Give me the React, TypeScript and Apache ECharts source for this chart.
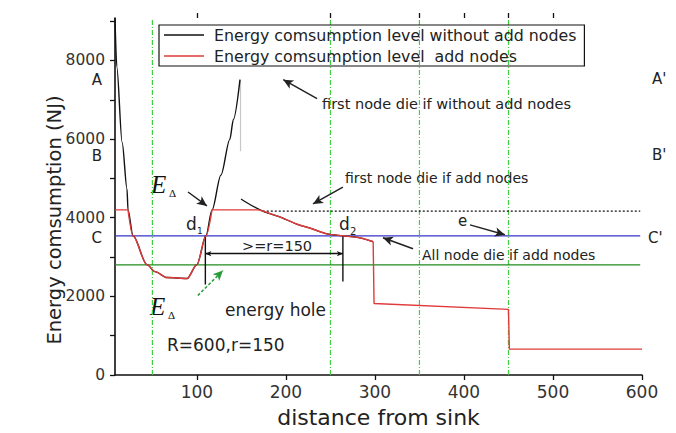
import React, { useEffect, useRef } from "react";
import * as echarts from "echarts";

// ---------- data ----------
const X_MIN = 8;
const X_MAX = 600;
const Y_MIN = 0;
const Y_MAX = 9080;

const xTickValues = [100, 200, 300, 400, 500, 600];
const xTopTickValues = [100, 250, 350, 400, 450, 500];
const yTickValues = [0, 1000, 2000, 3000, 4000, 5000, 6000, 7000, 8000, 9000];
const yLabelValues = [0, 2000, 4000, 6000, 8000];

// black: energy consumption without add nodes (U-shaped part)
const blackU: [number, number][] = [
  [8, 9080], [10, 7840], [16, 5920], [21.5, 4730], [22.6, 4200], [28.2, 3540],
  [43.9, 2807], [52.9, 2630], [66.4, 2478], [88.9, 2453], [100, 2807],
  [110.2, 3540], [117, 4200], [127, 5083], [137, 5994], [141, 6500], [148.4, 7511],
];
// shared declining part of both curves
const decline: [number, number][] = [
  [174, 4170], [193, 4020], [212, 3840], [229, 3720], [246, 3590], [264, 3540],
  [283, 3490], [298, 3390],
];
const blackTailStart: [number, number][] = [[149.6, 4477], [160, 4330]];
const blackDrop: [number, number][] = [[149, 7511], [149, 5690]];

// red: energy consumption with add nodes
const redLeftFlat: [number, number][] = [[8, 4200], [22.6, 4200]];
const redU: [number, number][] = [
  [22.6, 4200], [28.2, 3540], [43.9, 2807], [52.9, 2630], [66.4, 2478],
  [88.9, 2453], [100, 2807], [110.2, 3540], [117, 4200],
];
const redMidFlat: [number, number][] = [[117, 4200], [168.6, 4200]];
const redSteps: [number, number][] = [
  [298, 3390], [299, 1820], [450, 1669], [451, 657], [600, 657],
];

// reference lines
const levelC = 3540; // blue line C-C'
const levelGreen = 2800;
const levelFirstDie = 4170; // dotted
const refLineEnd = 598;
const dottedStart = 174;
const greenVerticals = [50, 250, 350, 450];
const d1 = 109.5;
const d2 = 264;
const d1Bottom = 2300;
const d2Bottom = 2377;
const spanLevel = 3085;

const NAME_BLACK = "Energy comsumption level without add nodes";
const NAME_RED = "Energy comsumption level  add nodes";

// arrows in data coordinates [from, to]
const arrows: { from: [number, number]; to: [number, number]; color: string; dashed?: boolean }[] = [
  { from: [235, 7031], to: [197, 7511], color: "#222" },
  { from: [90, 4654], to: [111.3, 4300], color: "#222" },
  { from: [264, 4780], to: [230.4, 4350], color: "#222" },
  { from: [406.8, 3819], to: [446, 3566], color: "#222" },
  { from: [342.8, 3212], to: [309, 3490], color: "#222" },
  { from: [101, 2023], to: [129.3, 2656], color: "#2a9a3a", dashed: true },
];

const FONT = "DejaVu Sans";

export default function App() {
  const ref = useRef<HTMLDivElement>(null);

  useEffect(() => {
    if (!ref.current) return;
    const chart = echarts.init(ref.current, null, { renderer: "svg" });

    const lineSeries = (name: string, data: [number, number][], color: string, width: number, extra: any = {}) => ({
      type: "line",
      name,
      data,
      symbol: "none",
      silent: true,
      lineStyle: { color, width, type: extra.dash || "solid" },
      itemStyle: { color },
      smooth: extra.smooth || false,
      smoothMonotone: extra.smoothMonotone,
    });

    const series: any[] = [];

    greenVerticals.forEach((v) => {
      series.push(lineSeries("gv" + v, [[v, Y_MIN], [v, Y_MAX]], "#3fcf3f", 1.2, { dash: [5, 2, 1, 2] }));
    });

    series.push(lineSeries("blue", [[X_MIN, levelC], [refLineEnd, levelC]], "#3434c8", 1.3));
    series.push(lineSeries("green", [[X_MIN, levelGreen], [refLineEnd, levelGreen]], "#1f8a1f", 1.3));
    series.push(lineSeries("dotted", [[dottedStart, levelFirstDie], [refLineEnd, levelFirstDie]], "#111", 1.2, { dash: [2, 2] }));
    series.push(lineSeries("d1line", [[d1, levelC], [d1, d1Bottom]], "#111", 1.4));
    series.push(lineSeries("d2line", [[d2, levelC], [d2, d2Bottom]], "#111", 1.4));
    series.push(lineSeries("gray", blackDrop, "#c8c8c8", 1.2));

    series.push(lineSeries(NAME_BLACK, blackU, "#111", 1.4, { smooth: 0.3, smoothMonotone: "x" }));
    series.push(lineSeries(NAME_BLACK, [...blackTailStart, ...decline], "#111", 1.3, { smooth: 0.3 }));

    series.push(lineSeries(NAME_RED, redLeftFlat, "#e03a3a", 1.4));
    series.push(lineSeries(NAME_RED, redU, "#e03a3a", 1.4, { smooth: 0.3, smoothMonotone: "x" }));
    series.push(lineSeries(NAME_RED, [...redMidFlat, ...decline], "#e03a3a", 1.4, { smooth: 0.25 }));
    series.push(lineSeries(NAME_RED, redSteps, "#e03a3a", 1.4));

    // arrows and dimension line
    series.push({
      type: "line",
      name: "annot",
      data: [],
      silent: true,
      markLine: {
        silent: true,
        animation: false,
        label: { show: false },
        data: [
          ...arrows.map((a) => [
            {
              coord: a.from,
              symbol: "none",
              lineStyle: { color: a.color, width: 1.5, type: a.dashed ? [3, 2] : "solid" },
            },
            { coord: a.to, symbol: "arrow", symbolSize: [7, 10] },
          ]),
          [
            { coord: [d1, spanLevel], symbol: "arrow", symbolSize: [4, 6], lineStyle: { color: "#111", width: 1.3, type: "solid" } },
            { coord: [d2, spanLevel], symbol: "arrow", symbolSize: [4, 6] },
          ],
        ],
      },
    });

    const txt = (text: string, x: number, y: number, size = 14, align = "left", extra: any = {}, rotation = 0) => ({
      type: "text",
      x,
      y,
      rotation,
      silent: true,
      style: {
        text,
        fontFamily: FONT,
        fontSize: size,
        fill: "#222",
        textAlign: align,
        textVerticalAlign: "middle",
        ...extra,
      },
    });

    const graphic: any[] = [
      txt("Energy comsumption (NJ)", 54, 220, 19.5, "center", {}, Math.PI / 2),
      txt("A", 102, 80, 15, "right"),
      txt("B", 102, 156, 15, "right"),
      txt("C", 102, 238, 15, "right"),
      txt("A'", 652, 79, 15),
      txt("B'", 652, 155, 15),
      txt("C'", 648, 238, 15),
      txt("first node die if without add nodes", 322, 104, 14.5),
      txt("first node die if add nodes", 345, 178, 14),
      txt("All node die if add nodes", 422, 255, 14),
      txt("e", 458, 221, 15),
      txt(">=r=150", 242, 246, 14.5),
      txt("energy hole", 225, 310, 17),
      txt("R=600,r=150", 167, 345, 17),
      txt("d", 186, 224, 17),
      txt("1", 197, 231, 9),
      txt("d", 339, 224, 17),
      txt("2", 350, 231, 10),
      txt("E", 151, 184, 25, "left", { fontFamily: "Liberation Serif", fontStyle: "italic", fill: "#111" }),
      txt("Δ", 169, 193, 11, "left", { fontFamily: "Liberation Serif", fill: "#111" }),
      txt("E", 150, 306, 25, "left", { fontFamily: "Liberation Serif", fontStyle: "italic", fill: "#111" }),
      txt("Δ", 168, 315, 11, "left", { fontFamily: "Liberation Serif", fill: "#111" }),
    ];

    chart.setOption({
      animation: false,
      backgroundColor: "#fff",
      grid: { left: 115, top: 18, right: 34, bottom: 56, containLabel: false },
      legend: {
        data: [
          { name: NAME_BLACK, icon: "rect" },
          { name: NAME_RED, icon: "rect" },
        ],
        orient: "vertical",
        left: 159,
        top: 25,
        itemWidth: 40,
        itemHeight: 1.6,
        itemGap: 5,
        padding: [2, 8, 2, 5],
        borderColor: "#111",
        borderWidth: 1.2,
        selectedMode: false,
        textStyle: { fontFamily: FONT, fontSize: 15.8, lineHeight: 16, color: "#222", padding: [0, 0, 0, 5] },
      },
      xAxis: [
        {
          type: "value",
          min: X_MIN,
          max: X_MAX,
          name: "distance from sink",
          nameLocation: "middle",
          nameGap: 31,
          nameTextStyle: { fontFamily: FONT, fontSize: 22, color: "#222" },
          axisLine: { lineStyle: { color: "#111", width: 1.6 } },
          axisTick: { show: true, length: 5, customValues: xTickValues, lineStyle: { color: "#111", width: 1.3 } },
          axisLabel: { customValues: xTickValues, margin: 8, fontFamily: FONT, fontSize: 17, color: "#333" },
          splitLine: { show: false },
        },
        {
          type: "value",
          position: "top",
          min: X_MIN,
          max: X_MAX,
          axisLine: { show: false },
          axisTick: { show: true, length: 5, customValues: xTopTickValues, lineStyle: { color: "#111", width: 1.3 } },
          axisLabel: { show: false },
          splitLine: { show: false },
        },
      ],
      yAxis: {
        type: "value",
        min: Y_MIN,
        max: Y_MAX,
        axisLine: { show: true, lineStyle: { color: "#111", width: 1.6 } },
        axisTick: { show: true, length: 5, customValues: yTickValues, lineStyle: { color: "#111", width: 1.3 } },
        axisLabel: {
          customValues: yLabelValues,
          margin: 10,
          fontFamily: FONT,
          fontSize: 15.5,
          color: "#333",
          formatter: (v: number) => String(v),
        },
        splitLine: { show: false },
      },
      series,
      graphic,
    });

    return () => chart.dispose();
  }, []);

  return (
    <div
      ref={ref}
      style={{ position: "fixed", left: 0, top: 0, width: 676, height: 433, background: "#fff" }}
    />
  );
}
